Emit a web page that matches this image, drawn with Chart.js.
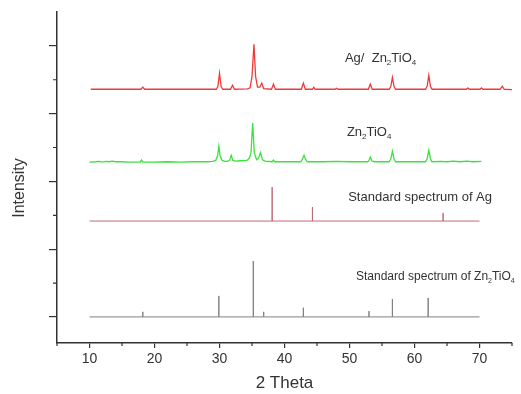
<!DOCTYPE html>
<html>
<head>
<meta charset="utf-8">
<script src="https://cdn.jsdelivr.net/npm/chart.js@4"></script>
<style>
  body { margin: 0; background: #fff; }
  #wrap { width: 521px; height: 394px; }
</style>
</head>
<body>
<div id="wrap"><canvas id="xrdChart" width="521" height="394"></canvas></div>
<script>
// X axis tick labels (2 Theta) and minor tick positions
const xTickLabels = [10, 20, 30, 40, 50, 60, 70];
const xMinorTicks = [5, 15, 25, 35, 45, 55, 65, 75];
// Intensity axis has no labels, just major/minor tick marks
const yMajorTicks = [0, 2, 4, 6, 8];
const yMinorTicks = [1, 3, 5, 7];

// Ag/Zn2TiO4 measured pattern [2theta, intensity] (offset stacked)
const agZnPattern = [
  [10.2, 6.72], [14, 6.72], [17.9, 6.72], [18.2, 6.78], [18.5, 6.72],
  [29.5, 6.72], [29.75, 6.8], [30.0, 7.19], [30.25, 6.8], [30.5, 6.72],
  [31.7, 6.72], [32.0, 6.84], [32.3, 6.72],
  [34.3, 6.73], [34.7, 6.76], [35.0, 7.1], [35.3, 8.05], [35.55, 7.1], [35.85, 6.78],
  [36.2, 6.78], [36.5, 6.9], [36.8, 6.74],
  [38.0, 6.72], [38.3, 6.87], [38.6, 6.72],
  [42.6, 6.72], [42.9, 6.9], [43.2, 6.72],
  [44.3, 6.72], [44.5, 6.78], [44.7, 6.72],
  [47.8, 6.72], [48.0, 6.75], [48.2, 6.72],
  [52.9, 6.72], [53.2, 6.87], [53.5, 6.72],
  [56.1, 6.72], [56.35, 6.8], [56.6, 7.07], [56.85, 6.8], [57.1, 6.72],
  [61.7, 6.72], [61.95, 6.81], [62.2, 7.13], [62.45, 6.81], [62.7, 6.72],
  [68.0, 6.72], [68.2, 6.76], [68.4, 6.72],
  [70.1, 6.72], [70.3, 6.76], [70.5, 6.72],
  [73.2, 6.72], [73.5, 6.81], [73.8, 6.72],
  [75, 6.71]
];

// Zn2TiO4 measured pattern
const znPattern = [
  [10, 4.57], [11, 4.58], [11.5, 4.59], [12, 4.57], [12.5, 4.59], [13, 4.58], [13.5, 4.6],
  [14, 4.58], [15, 4.58], [16, 4.57],
  [17.8, 4.57], [18.0, 4.63], [18.2, 4.57],
  [20, 4.57], [22, 4.58], [24, 4.57], [26, 4.58], [28, 4.58], [29, 4.59],
  [29.4, 4.62], [29.7, 4.75], [29.9, 5.04], [30.1, 4.75], [30.4, 4.62], [30.8, 4.59], [31.2, 4.59],
  [31.55, 4.62], [31.8, 4.77], [32.05, 4.62], [32.5, 4.6], [33.2, 4.61], [34.2, 4.62],
  [34.6, 4.68], [34.85, 4.85], [35.1, 5.72], [35.35, 4.85], [35.7, 4.64],
  [36.0, 4.68], [36.3, 4.85], [36.6, 4.64], [37, 4.6],
  [38.1, 4.58], [38.3, 4.63], [38.5, 4.58],
  [40, 4.58], [42.5, 4.58], [42.75, 4.65], [43.0, 4.77], [43.25, 4.65], [43.5, 4.58],
  [46, 4.58], [48, 4.59], [50, 4.58],
  [52.8, 4.58], [53.0, 4.62], [53.2, 4.72], [53.45, 4.6], [53.8, 4.58],
  [56.1, 4.58], [56.35, 4.66], [56.6, 4.89], [56.85, 4.66], [57.1, 4.58],
  [59, 4.58], [61.7, 4.58], [61.95, 4.67], [62.2, 4.92], [62.45, 4.67], [62.7, 4.58],
  [64, 4.59], [65, 4.58], [66, 4.6], [67, 4.58], [68, 4.6], [69, 4.58], [70.3, 4.59]
];

// standard Ag reference lines
const agStdBase = 2.83;
const agStdAngles = [38.1, 44.3, 64.4];
const agStdHeights = [1.0, 0.41, 0.24];

// standard Zn2TiO4 reference lines
const znStdBase = 0;
const znStdAngles = [18.2, 29.9, 35.2, 36.8, 42.9, 53.0, 56.6, 62.1];
const znStdHeights = [0.15, 0.62, 1.65, 0.15, 0.27, 0.17, 0.53, 0.56];

function toPoints(pairs) {
    return pairs.map(p => ({ x: p[0], y: p[1] }));
}

// stick pattern: flat baseline with a vertical line at each angle
function stickPoints(base, angles, heights) {
    const pts = [{ x: 10, y: base }];
    angles.forEach((a, i) => {
        pts.push({ x: a, y: base });
        pts.push({ x: a, y: base + heights[i] });
        pts.push({ x: a, y: base });
    });
    pts.push({ x: 70, y: base });
    return pts;
}

const textColor = '#333333';

// draws a formula with small lowered digits, e.g. Zn2TiO4
function drawFormula(ctx, parts, x, y, size) {
    let cx = x;
    parts.forEach(part => {
        const sub = part.sub;
        ctx.font = (sub ? Math.round(size * 0.6) : size) + 'px "Liberation Sans", Arial, sans-serif';
        ctx.fillText(part.t, cx, sub ? y + 3 : y);
        cx += ctx.measureText(part.t).width;
    });
}

const labelPlugin = {
    id: 'xrdLabels',
    afterDraw(chart) {
        const ctx = chart.ctx;
        const xs = chart.scales.x;
        const ys = chart.scales.y;
        const area = chart.chartArea;

        ctx.save();
        // minor ticks
        ctx.strokeStyle = '#333';
        ctx.lineWidth = 1.2;
        ctx.beginPath();
        xMinorTicks.forEach(v => {
            const px = xs.getPixelForValue(v);
            ctx.moveTo(px, area.bottom);
            ctx.lineTo(px, area.bottom + 3);
        });
        yMinorTicks.forEach(v => {
            const py = ys.getPixelForValue(v);
            ctx.moveTo(area.left - 4, py);
            ctx.lineTo(area.left, py);
        });
        ctx.stroke();

        // y title
        ctx.fillStyle = textColor;
        ctx.save();
        ctx.translate(20, 188);
        ctx.rotate(-Math.PI / 2);
        ctx.textAlign = 'center';
        ctx.textBaseline = 'middle';
        ctx.font = '16px "Liberation Sans", Arial, sans-serif';
        ctx.fillText('Intensity', 0, 0);
        ctx.restore();

        // series labels
        ctx.textAlign = 'left';
        ctx.textBaseline = 'alphabetic';
        drawFormula(ctx, [{ t: 'Ag/  Zn' }, { t: '2', sub: true }, { t: 'TiO' }, { t: '4', sub: true }],
            xs.getPixelForValue(49.3), ys.getPixelForValue(7.52), 13);
        drawFormula(ctx, [{ t: 'Zn' }, { t: '2', sub: true }, { t: 'TiO' }, { t: '4', sub: true }],
            xs.getPixelForValue(49.6), ys.getPixelForValue(5.34), 13);
        drawFormula(ctx, [{ t: 'Standard spectrum of Ag' }],
            xs.getPixelForValue(49.8), ys.getPixelForValue(3.42), 13);
        drawFormula(ctx, [{ t: 'Standard spectrum of Zn' }, { t: '2', sub: true }, { t: 'TiO' }, { t: '4', sub: true }],
            xs.getPixelForValue(51.0), ys.getPixelForValue(1.09), 12);
        ctx.restore();
    }
};

const ctxXrd = document.getElementById('xrdChart').getContext('2d');

const xrdChart = new Chart(ctxXrd, {
    type: 'line',
    data: {
        datasets: [
            {
                label: 'Ag/ Zn2TiO4',
                data: toPoints(agZnPattern),
                borderColor: '#f03a3a',
                borderWidth: 1.3,
                pointRadius: 0,
                tension: 0,
            },
            {
                label: 'Zn2TiO4',
                data: toPoints(znPattern),
                borderColor: '#3be23b',
                borderWidth: 1.3,
                pointRadius: 0,
                tension: 0,
            },
            {
                label: 'Standard spectrum of Ag',
                data: stickPoints(agStdBase, agStdAngles, agStdHeights),
                borderColor: '#c06a74',
                borderWidth: 1,
                pointRadius: 0,
                tension: 0,
            },
            {
                label: 'Standard spectrum of Zn2TiO4',
                data: stickPoints(znStdBase, znStdAngles, znStdHeights),
                borderColor: '#808080',
                borderWidth: 1,
                pointRadius: 0,
                tension: 0,
            },
        ]
    },
    options: {
        responsive: false,
        animation: false,
        devicePixelRatio: 1,
        layout: {
            padding: { left: 0, right: 9, top: 12, bottom: 0 },
        },
        scales: {
            x: {
                type: 'linear',
                position: 'bottom',
                min: 5,
                max: 75,
                afterBuildTicks: axis => {
                    axis.ticks = xTickLabels.map(v => ({ value: v }));
                },
                afterFit: scale => {
                    scale.height = 51;
                },
                border: { color: '#333', width: 1.5 },
                grid: {
                    drawOnChartArea: false,
                    drawTicks: true,
                    tickLength: 5,
                    color: '#333',
                    lineWidth: 1.2,
                },
                ticks: {
                    color: textColor,
                    padding: 3,
                    maxRotation: 0,
                    font: { family: '"Liberation Sans", Arial, sans-serif', size: 14 },
                },
                title: {
                    display: true,
                    text: '2 Theta',
                    color: textColor,
                    padding: { top: 0, bottom: 0 },
                    font: { family: '"Liberation Sans", Arial, sans-serif', size: 17 },
                },
            },
            y: {
                type: 'linear',
                min: -0.77,
                max: 9,
                afterBuildTicks: axis => {
                    axis.ticks = yMajorTicks.map(v => ({ value: v }));
                },
                afterFit: scale => {
                    scale.width = 57;
                },
                border: { color: '#333', width: 1.5 },
                grid: {
                    drawOnChartArea: false,
                    drawTicks: true,
                    tickLength: 8,
                    color: '#333',
                    lineWidth: 1.2,
                },
                ticks: {
                    display: false,
                },
            },
        },
        plugins: {
            legend: { display: false },
            tooltip: { enabled: false },
        },
    },
    plugins: [labelPlugin],
});
</script>
</body>
</html>
